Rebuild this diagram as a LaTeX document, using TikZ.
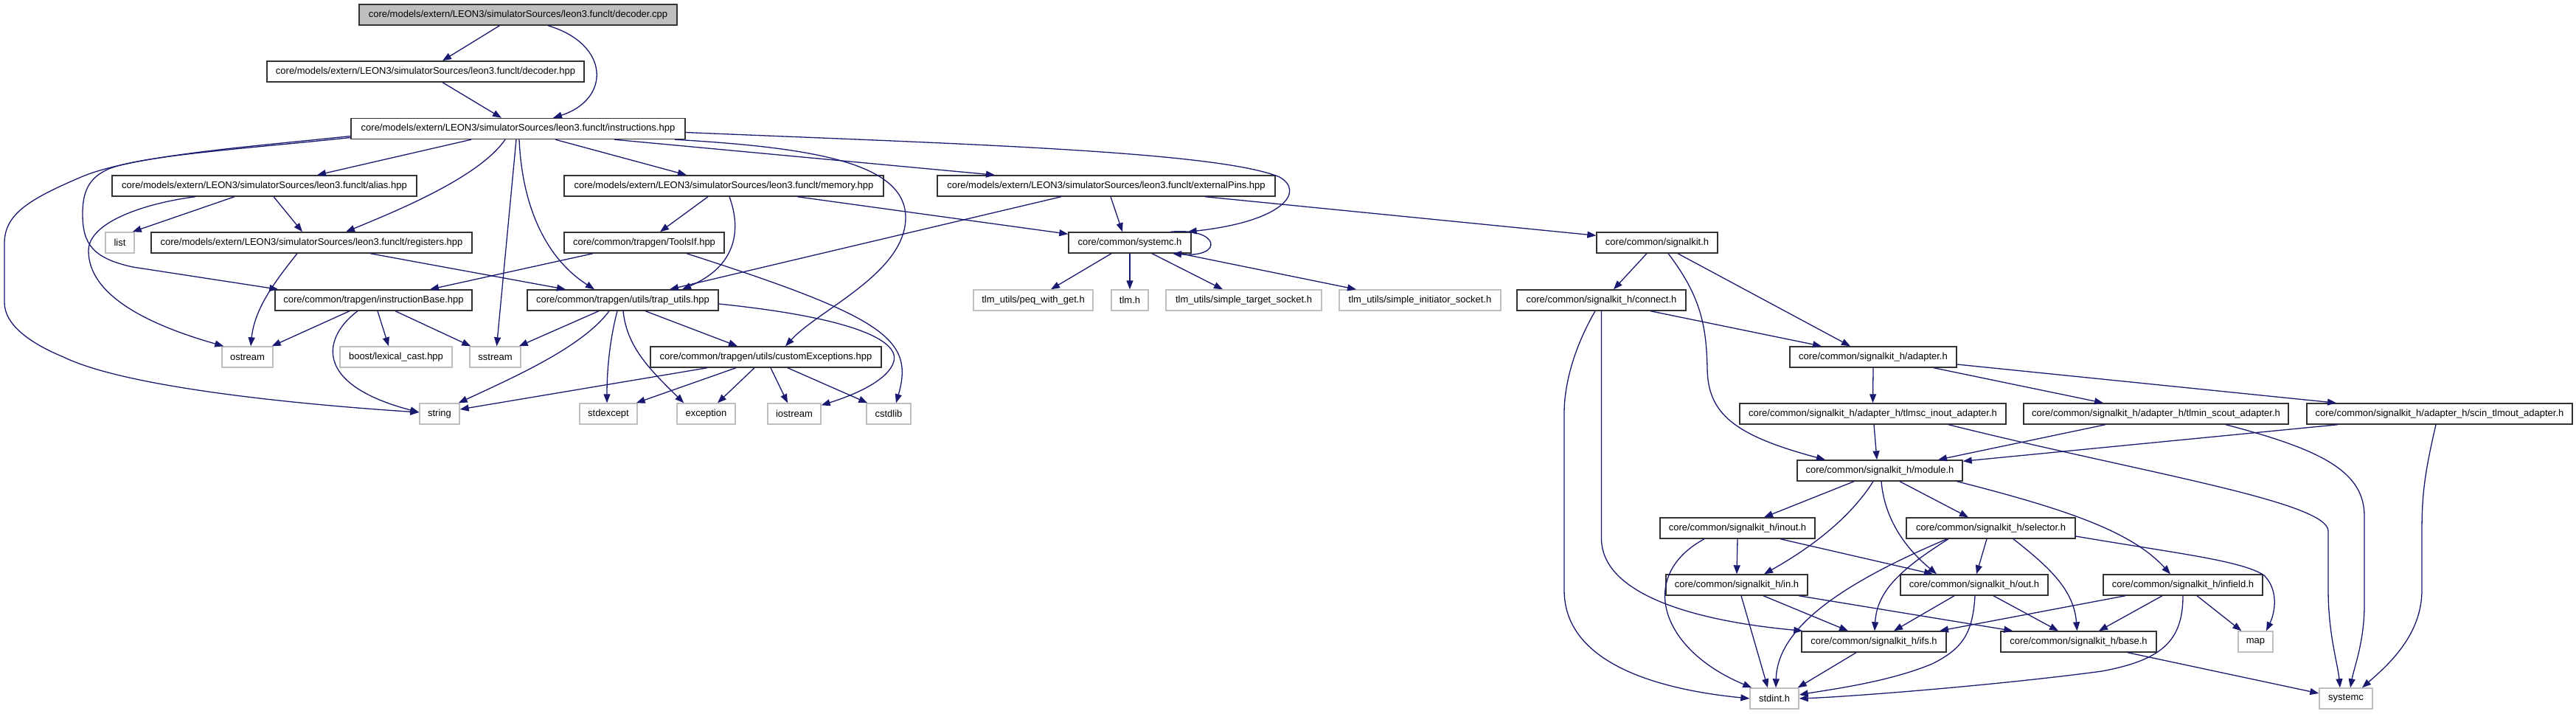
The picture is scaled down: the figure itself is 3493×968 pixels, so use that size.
\documentclass[tikz,border=0pt]{standalone}
\usepackage{fontspec}
\setmainfont{Liberation Sans}
\usetikzlibrary{arrows.meta}
\definecolor{edgeblue}{HTML}{191970}
\definecolor{lgray}{HTML}{BFBFBF}
\newcommand{\nodefont}{\fontsize{13}{15}\selectfont}
\begin{document}
\begin{tikzpicture}[x=1pt,y=-1pt,
 nb/.style={draw=black!80, line width=1.4pt, fill=white, minimum height=28pt, inner sep=0pt, font=\nodefont},
 ng/.style={nb, draw=lgray},
 nmain/.style={nb, fill=lgray},
 e/.style={draw=edgeblue, line width=1.3pt, -{Triangle[length=12pt,width=9pt]}}
]
\fill[white] (0,0) rectangle (3493,968);
\useasboundingbox (0,0) rectangle (3493,968);

% row 0
\node[nmain, minimum width=431] (dcpp) at (702.5,20) {core/models/extern/LEON3/simulatorSources/leon3.funclt/decoder.cpp};
% row 1
\node[nb, minimum width=430] (dhpp) at (577,97) {core/models/extern/LEON3/simulatorSources/leon3.funclt/decoder.hpp};
% row 2
\node[nb, minimum width=453] (instr) at (702.5,174.5) {core/models/extern/LEON3/simulatorSources/leon3.funclt/instructions.hpp};
% row 3
\node[nb, minimum width=413] (alias) at (358.5,252) {core/models/extern/LEON3/simulatorSources/leon3.funclt/alias.hpp};
\node[nb, minimum width=433] (memory) at (981.5,252) {core/models/extern/LEON3/simulatorSources/leon3.funclt/memory.hpp};
\node[nb, minimum width=458] (extpins) at (1500,252) {core/models/extern/LEON3/simulatorSources/leon3.funclt/externalPins.hpp};
% row 4
\node[ng, minimum width=39] (list) at (162.5,329) {list};
\node[nb, minimum width=435] (regs) at (422.5,329) {core/models/extern/LEON3/simulatorSources/leon3.funclt/registers.hpp};
\node[nb, minimum width=217] (toolsif) at (873.5,329) {core/common/trapgen/ToolsIf.hpp};
\node[nb, minimum width=166] (systemch) at (1532,329) {core/common/systemc.h};
\node[nb, minimum width=164] (signalkit) at (2247,329) {core/common/signalkit.h};
% row 5
\node[nb, minimum width=267] (instbase) at (506.5,407) {core/common/trapgen/instructionBase.hpp};
\node[nb, minimum width=259] (traputils) at (844.5,407) {core/common/trapgen/utils/trap\_utils.hpp};
\node[ng, minimum width=162] (peq) at (1401,407) {tlm\_utils/peq\_with\_get.h};
\node[ng, minimum width=50] (tlmh) at (1532,407) {tlm.h};
\node[ng, minimum width=211] (tsock) at (1686.5,407) {tlm\_utils/simple\_target\_socket.h};
\node[ng, minimum width=219] (isock) at (1925.5,407) {tlm\_utils/simple\_initiator\_socket.h};
\node[nb, minimum width=229] (connect) at (2171.5,407) {core/common/signalkit\_h/connect.h};
% row 6
\node[ng, minimum width=69] (ostream) at (335.5,484) {ostream};
\node[ng, minimum width=152] (boost) at (537,484) {boost/lexical\_cast.hpp};
\node[ng, minimum width=69] (sstream) at (671.5,484) {sstream};
\node[nb, minimum width=313] (custexc) at (1038.5,484) {core/common/trapgen/utils/customExceptions.hpp};
\node[nb, minimum width=226] (adapter) at (2540,484) {core/common/signalkit\_h/adapter.h};
% row 7
\node[ng, minimum width=54] (string) at (596,561) {string};
\node[ng, minimum width=78] (stdexcept) at (825,561) {stdexcept};
\node[ng, minimum width=79] (exception) at (957.5,561) {exception};
\node[ng, minimum width=72] (iostream) at (1077,561) {iostream};
\node[ng, minimum width=60] (cstdlib) at (1205,561) {cstdlib};
\node[nb, minimum width=361] (tlmsc) at (2539.5,561) {core/common/signalkit\_h/adapter\_h/tlmsc\_inout\_adapter.h};
\node[nb, minimum width=359] (tlmin) at (2923.5,561) {core/common/signalkit\_h/adapter\_h/tlmin\_scout\_adapter.h};
\node[nb, minimum width=360] (scin) at (3308,561) {core/common/signalkit\_h/adapter\_h/scin\_tlmout\_adapter.h};
% row 8
\node[nb, minimum width=224] (module) at (2549,638) {core/common/signalkit\_h/module.h};
% row 9
\node[nb, minimum width=210] (inout) at (2356,716) {core/common/signalkit\_h/inout.h};
\node[nb, minimum width=229] (selector) at (2699.5,716) {core/common/signalkit\_h/selector.h};
% row 10
\node[nb, minimum width=192] (inh) at (2355,793) {core/common/signalkit\_h/in.h};
\node[nb, minimum width=200] (outh) at (2677,793) {core/common/signalkit\_h/out.h};
\node[nb, minimum width=216] (infield) at (2960,793) {core/common/signalkit\_h/infield.h};
% row 11
\node[nb, minimum width=196] (ifs) at (2541,870) {core/common/signalkit\_h/ifs.h};
\node[nb, minimum width=211] (base) at (2818.5,870) {core/common/signalkit\_h/base.h};
\node[ng, minimum width=47] (map) at (3058.5,870) {map};
% row 12
\node[ng, minimum width=66] (stdint) at (2406,947) {stdint.h};
\node[ng, minimum width=72] (systemc) at (3181,947) {systemc};

% edges
\draw[e] ([xshift=-25]dcpp.south) -- ([xshift=23]dhpp.north);
\draw[e] ([xshift=40.5]dcpp.south) .. controls (828,60) and (828,135) .. ([xshift=47.5]instr.north);
\draw[e] ([xshift=23]dhpp.south) -- ([xshift=-22.5]instr.north);
\draw[e] ([xshift=-63.5]instr.south) -- ([xshift=71.5]alias.north);
\draw[e] ([xshift=-17.5]instr.south) .. controls (650,240) and (540,285) .. ([xshift=46.5]regs.north);
\draw[e] ([xshift=-2.5]instr.south) -- ([xshift=2]sstream.north);
\draw[e] ([xshift=1.5]instr.south) .. controls (708,280) and (740,350) .. ([xshift=-38.5]traputils.north);
\draw[e] ([yshift=-10]instr.west) .. controls (350,198) and (180,210) .. (110,240) .. controls (40,270) and (6,290) .. (6,330) -- (6,410) .. controls (6,440) and (40,465) .. (86,484) .. controls (170,525) and (400,548) .. ([yshift=2]string.west);
\draw[e] ([yshift=-12]instr.west) .. controls (350,200) and (200,210) .. (150,228) .. controls (120,240) and (112,260) .. (112,290) .. controls (112,330) and (125,350) .. (180,362) -- ([xshift=5]instbase.north west);
\draw[e] ([xshift=50.5]instr.south) -- ([xshift=-50.5]memory.north);
\draw[e] ([xshift=130.5]instr.south) -- ([xshift=-151]extpins.north);
\draw[e] ([xshift=212.5]instr.south) .. controls (1100,200) and (1228,220) .. (1228,295) .. controls (1228,370) and (1110,420) .. ([xshift=26.5]custexc.north);
\draw[e] ([yshift=-5]instr.east) .. controls (1300,195) and (1650,205) .. (1735,240) .. controls (1770,260) and (1740,300) .. ([xshift=-5]systemch.north east);
\draw[e] ([xshift=-40.5]alias.south) -- ([xshift=-3]list.north east);
\draw[e] ([xshift=12.5]alias.south) -- ([xshift=-12.5]regs.north);
\draw[e] ([xshift=-93.5]alias.south) .. controls (200,275) and (120,300) .. (120,340) .. controls (120,400) and (200,440) .. ([xshift=3]ostream.north west);
\draw[e] ([xshift=-19.5]regs.south) .. controls (370,385) and (345,420) .. ([xshift=4.5]ostream.north);
\draw[e] ([xshift=79.5]regs.south) -- ([xshift=-77.5]traputils.north);
\draw[e] ([xshift=-21.5]memory.south) -- ([xshift=21.5]toolsif.north);
\draw[e] ([xshift=7.5]memory.south) .. controls (1005,310) and (1000,360) .. ([xshift=80.5]traputils.north);
\draw[e] ([xshift=99.5]memory.south) -- ([yshift=-3]systemch.north west);
\draw[e] ([xshift=-61]extpins.south) -- ([xshift=63.5]traputils.north);
\draw[e] ([xshift=6]extpins.south) -- ([xshift=-10]systemch.north);
\draw[e] ([xshift=134]extpins.south) -- ([yshift=-5]signalkit.north west);
\draw[e] ([xshift=-69.5]toolsif.south) -- ([xshift=76.5]instbase.north);
\draw[e] ([xshift=57.5]toolsif.south) .. controls (1200,430) and (1240,460) .. ([xshift=10]cstdlib.north);
\draw[e] ([xshift=55]systemch.north) .. controls (1655,308) and (1660,350) .. ([xshift=58]systemch.south);
\draw[e] ([xshift=-25]systemch.south) -- ([xshift=24]peq.north);
\draw[e] (systemch.south) -- (tlmh.north);
\draw[e] ([xshift=30]systemch.south) -- ([xshift=-28.5]tsock.north);
\draw[e] ([xshift=68]systemch.south) -- ([xshift=-86.5]isock.north);
\draw[e] ([xshift=-32.5]instbase.south) -- ([xshift=-2]ostream.north east);
\draw[e] ([xshift=-21.5]instbase.south) .. controls (440,455) and (420,520) .. ([yshift=2]string.west);
\draw[e] ([xshift=5.5]instbase.south) -- ([xshift=-10]boost.north);
\draw[e] ([xshift=29.5]instbase.south) -- ([xshift=2]sstream.north west);
\draw[e] ([xshift=-32.5]traputils.south) -- ([xshift=-3]sstream.north east);
\draw[e] ([xshift=-18.5]traputils.south) .. controls (790,470) and (700,510) .. ([xshift=-2]string.north east);
\draw[e] ([xshift=-7.5]traputils.south) .. controls (827,460) and (823,500) .. ([xshift=-2]stdexcept.north);
\draw[e] ([xshift=0.5]traputils.south) .. controls (850,470) and (880,500) .. ([xshift=10]exception.north west);
\draw[e] ([xshift=30.5]traputils.south) -- ([xshift=-38.5]custexc.north);
\draw[e] ([yshift=-5]traputils.east) .. controls (1150,430) and (1220,460) .. (1212,490) .. controls (1205,515) and (1160,535) .. ([yshift=-3]iostream.north east);
\draw[e] ([xshift=-79.5]custexc.south) -- ([yshift=6]string.east);
\draw[e] ([xshift=-40.5]custexc.south) -- ([xshift=-2]stdexcept.north east);
\draw[e] ([xshift=-15.5]custexc.south) -- ([xshift=15.5]exception.north);
\draw[e] ([xshift=6.5]custexc.south) -- ([xshift=-9]iostream.north);
\draw[e] ([xshift=29.5]custexc.south) -- ([xshift=2]cstdlib.north west);
\draw[e] ([xshift=-14]signalkit.south) -- ([xshift=16.5]connect.north);
\draw[e] ([xshift=28]signalkit.south) -- ([xshift=-31]adapter.north);
\draw[e] ([xshift=15]signalkit.south) .. controls (2305,400) and (2314,440) .. (2315,500) .. controls (2316,560) and (2350,590) .. ([xshift=-74]module.north);
\draw[e] ([xshift=66.5]connect.south) -- ([xshift=-70]adapter.north);
\draw[e] ([xshift=-8.5]connect.south) .. controls (2135,470) and (2121,520) .. (2121,560) -- (2121,800) .. controls (2121,900) and (2250,935) .. (stdint.west);
\draw[e] (connect.south) -- (2171.5,730) .. controls (2171.5,800) and (2280,840) .. ([xshift=2]ifs.north west);
\draw[e] (adapter.south) -- (tlmsc.north);
\draw[e] ([xshift=82]adapter.south) -- ([xshift=-71.5]tlmin.north);
\draw[e] ([yshift=-10]adapter.east) -- ([xshift=-140]scin.north);
\draw[e] ([xshift=1.5]tlmsc.south) -- ([xshift=-4]module.north);
\draw[e] ([xshift=102.5]tlmsc.south) .. controls (2900,640) and (3157,680) .. (3157,720) -- (3157,800) .. controls (3157,860) and (3170,900) .. ([xshift=-8]systemc.north);
\draw[e] ([xshift=-68.5]tlmin.south) -- ([xshift=79]module.north);
\draw[e] ([xshift=94.5]tlmin.south) .. controls (3150,610) and (3206,640) .. (3206,700) -- (3206,820) .. controls (3206,870) and (3192,905) .. ([xshift=6]systemc.north);
\draw[e] ([xshift=-138]scin.south) -- ([yshift=-2]module.north east);
\draw[e] ([xshift=-5]scin.south) .. controls (3288,640) and (3284,670) .. (3284,720) -- (3284,800) .. controls (3284,860) and (3240,900) .. ([xshift=22]systemc.north);
\draw[e] ([xshift=-35]module.south) -- ([xshift=36]inout.north);
\draw[e] ([xshift=-9]module.south) .. controls (2510,700) and (2460,740) .. ([xshift=37]inh.north);
\draw[e] ([xshift=2]module.south) .. controls (2555,700) and (2580,740) .. ([xshift=-51]outh.north);
\draw[e] ([xshift=27]module.south) -- ([xshift=-30.5]selector.north);
\draw[e] ([xshift=-8]module.south east) .. controls (2800,690) and (2890,720) .. ([xshift=-17]infield.north);
\draw[e] (inout.south) -- (inh.north);
\draw[e] ([xshift=58]inout.south) -- ([xshift=-56]outh.north);
\draw[e] ([xshift=-45]inout.south) .. controls (2220,780) and (2250,880) .. ([xshift=3]stdint.north west);
\draw[e] ([xshift=-59.5]selector.south) .. controls (2500,790) and (2410,850) .. ([xshift=2]stdint.north);
\draw[e] ([xshift=-57.5]selector.south) .. controls (2580,770) and (2545,800) .. ([xshift=1]ifs.north);
\draw[e] ([xshift=-5.5]selector.south) -- ([xshift=3]outh.north);
\draw[e] ([xshift=30.5]selector.south) .. controls (2780,770) and (2812,800) .. ([xshift=-2]base.north);
\draw[e] ([yshift=-11]selector.east) .. controls (2950,750) and (3040,760) .. (3070,780) .. controls (3090,800) and (3085,830) .. ([xshift=14.5]map.north);
\draw[e] ([xshift=6]inh.south) -- ([xshift=-9]stdint.north);
\draw[e] ([xshift=36]inh.south) -- ([xshift=-35]ifs.north);
\draw[e] ([xshift=84]inh.south) -- ([xshift=17]base.north west);
\draw[e] ([xshift=-27]outh.south) -- ([xshift=27]ifs.north);
\draw[e] ([xshift=26]outh.south) -- ([xshift=-27.5]base.north);
\draw[e] ([xshift=1]outh.south) .. controls (2675,860) and (2660,880) .. (2620,900) .. controls (2560,925) and (2480,935) .. ([yshift=5]stdint.east);
\draw[e] ([xshift=-78]infield.south) -- ([xshift=89]ifs.north);
\draw[e] ([xshift=-28]infield.south) -- ([xshift=27.5]base.north);
\draw[e] ([xshift=19]infield.south) -- ([xshift=5]map.north west);
\draw[e] (infield.south) .. controls (2960,870) and (2930,895) .. (2850,910) .. controls (2700,930) and (2500,945) .. (stdint.east);
\draw[e] ([xshift=-24]ifs.south) -- ([xshift=-2]stdint.north east);
\draw[e] ([xshift=66.5]base.south) -- ([yshift=7]systemc.west);
\end{tikzpicture}
\end{document}
